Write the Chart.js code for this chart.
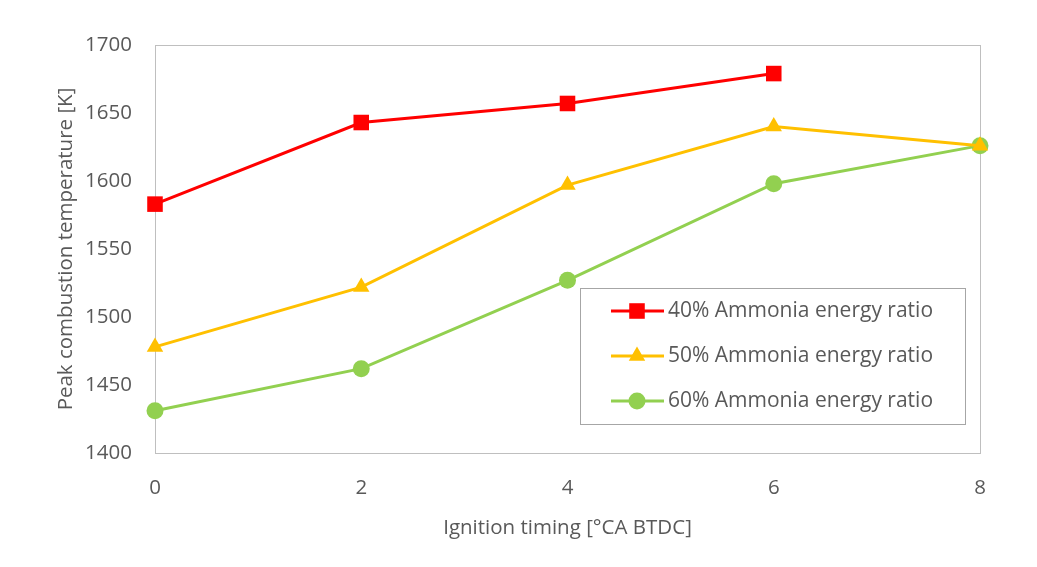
<!DOCTYPE html>
<html lang="en">
<head>
    <meta charset="UTF-8">
    <title>Peak Combustion Temperature</title>
    <script src="https://cdn.jsdelivr.net/npm/chart.js"></script>
    <style>
        html, body {
            margin: 0;
            padding: 0;
            background: #ffffff;
        }
        .chart-box {
            position: relative;
            width: 1037px;
            height: 567px;
        }
    </style>
</head>
<body>
    <div class="chart-box">
        <canvas id="tempChart"></canvas>
    </div>

    <script>
        // ignition timing [°CA BTDC]
        const timing = [0, 2, 4, 6, 8];

        // peak combustion temperature [K] per ammonia energy ratio
        const nh3_40 = [1583, 1643, 1657, 1679];
        const nh3_50 = [1478, 1522, 1597, 1640, 1626];
        const nh3_60 = [1431, 1462, 1527, 1598, 1626];

        const seriesLabels = ['40% Ammonia energy ratio', '50% Ammonia energy ratio', '60% Ammonia energy ratio'];

        const xTitle = 'Ignition timing [°CA BTDC]';
        const yTitle = 'Peak combustion temperature [K]';

        const FONT = '"Open Sans", sans-serif';
        const TEXT_COLOR = '#595959';

        function toPoints(values) {
            return values.map((v, i) => ({ x: timing[i], y: v }));
        }

        // plain grey frame round the plot area
        const frame = {
            id: 'frame',
            beforeDatasetsDraw(chart) {
                const a = chart.chartArea;
                const ctx = chart.ctx;
                ctx.save();
                ctx.strokeStyle = '#bfbfbf';
                ctx.lineWidth = 1;
                ctx.strokeRect(Math.round(a.left) + 0.5, Math.round(a.top) + 0.5,
                    Math.round(a.right - a.left), Math.round(a.bottom - a.top));
                ctx.restore();
            }
        };

        // legend box sitting inside the plot, bottom right
        const boxLegend = {
            id: 'boxLegend',
            afterDraw(chart) {
                const a = chart.chartArea;
                const ctx = chart.ctx;
                const w = 385, h = 136;
                const x0 = a.right - 15 - w;
                const y0 = a.bottom - 29 - h;
                ctx.save();
                ctx.fillStyle = '#ffffff';
                ctx.fillRect(x0, y0, w, h);
                ctx.strokeStyle = '#a6a6a6';
                ctx.lineWidth = 1;
                ctx.strokeRect(Math.round(x0) + 0.5, Math.round(y0) + 0.5, w, h);

                chart.data.datasets.forEach((ds, i) => {
                    const cy = y0 + 23 + i * 45;
                    const lx = x0 + 31;
                    ctx.strokeStyle = ds.borderColor;
                    ctx.lineWidth = ds.borderWidth;
                    ctx.beginPath();
                    ctx.moveTo(lx, cy);
                    ctx.lineTo(lx + 53, cy);
                    ctx.stroke();

                    ctx.fillStyle = ds.pointBackgroundColor;
                    ctx.strokeStyle = ds.pointBackgroundColor;
                    Chart.helpers.drawPoint(ctx, {
                        pointStyle: ds.pointStyle,
                        radius: ds.pointRadius,
                        rotation: 0,
                        borderWidth: 0
                    }, lx + 26, cy);

                    ctx.fillStyle = TEXT_COLOR;
                    ctx.font = '21px ' + FONT;
                    ctx.textBaseline = 'middle';
                    ctx.textAlign = 'left';
                    ctx.fillText(ds.label, lx + 57, cy);
                });
                ctx.restore();
            }
        };

        new Chart(document.getElementById('tempChart').getContext('2d'), {
            type: 'line',
            data: {
                datasets: [
                    {
                        label: seriesLabels[0],
                        data: toPoints(nh3_40),
                        borderColor: '#ff0000',
                        pointBackgroundColor: '#ff0000',
                        pointBorderWidth: 0,
                        pointStyle: 'rect',
                        pointRadius: 11,
                        borderWidth: 3,
                        clip: false
                    },
                    {
                        label: seriesLabels[1],
                        data: toPoints(nh3_50),
                        borderColor: '#ffc000',
                        pointBackgroundColor: '#ffc000',
                        pointBorderWidth: 0,
                        pointStyle: 'triangle',
                        pointRadius: 9.5,
                        borderWidth: 3,
                        clip: false
                    },
                    {
                        label: seriesLabels[2],
                        data: toPoints(nh3_60),
                        borderColor: '#92d050',
                        pointBackgroundColor: '#92d050',
                        pointBorderWidth: 0,
                        pointStyle: 'circle',
                        pointRadius: 8.5,
                        borderWidth: 3,
                        clip: false
                    }
                ]
            },
            options: {
                responsive: true,
                maintainAspectRatio: false,
                animation: false,
                layout: {
                    padding: { top: 45, right: 57, bottom: 0, left: 0 }
                },
                plugins: {
                    legend: { display: false },
                    tooltip: { enabled: false }
                },
                scales: {
                    x: {
                        type: 'linear',
                        min: 0,
                        max: 8,
                        grid: { display: false },
                        border: { display: false },
                        ticks: {
                            stepSize: 2,
                            color: TEXT_COLOR,
                            font: { family: FONT, size: 20.5 },
                            padding: 15
                        },
                        title: {
                            display: true,
                            text: xTitle,
                            color: TEXT_COLOR,
                            font: { family: FONT, size: 20.5 },
                            padding: { top: 0, bottom: 27 }
                        },
                        afterFit(scale) { scale.height = 114; }
                    },
                    y: {
                        min: 1400,
                        max: 1700,
                        grid: { display: false },
                        border: { display: false },
                        ticks: {
                            stepSize: 50,
                            color: TEXT_COLOR,
                            font: { family: FONT, size: 20.5 },
                            padding: 15,
                            callback: v => String(v)
                        },
                        title: {
                            display: true,
                            text: yTitle,
                            color: TEXT_COLOR,
                            font: { family: FONT, size: 20.5 },
                            padding: { top: 54, bottom: 0 }
                        },
                        afterFit(scale) { scale.width = 155; }
                    }
                }
            },
            plugins: [frame, boxLegend]
        });
    </script>
</body>
</html>
